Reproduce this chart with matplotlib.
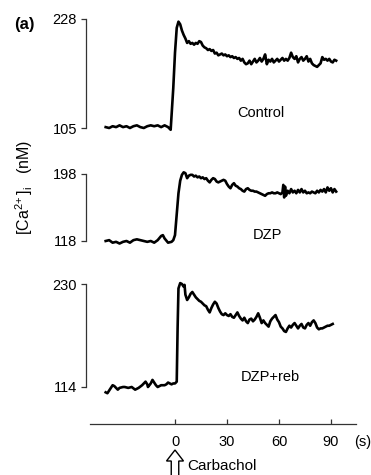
import matplotlib
matplotlib.use("Agg")
import matplotlib.pyplot as plt
from matplotlib.patches import FancyArrow

plt.rcParams['font.family'] = ['Liberation Sans', 'DejaVu Sans']
plt.rcParams['mathtext.fontset'] = 'custom'
plt.rcParams['mathtext.rm'] = 'Liberation Sans'
plt.rcParams['mathtext.it'] = 'Liberation Sans'

# ---------------- data ----------------
control_t = [-40,-38,-36,-34,-32,-30,-28,-26,-24,-22,-20,-18,-16,-14,-12,-10,-8,-6,-4,-3,
             -2.5,-1,0,1,2,3,4,5,6,7,8,9,10,11,12,13,14,15,16,17,18,19,20,21,22,23,24,25,26,27,28,29,30,
             31,32,33,34,35,36,37,38,39,40,41,42,43,44,45,46,47,48,49,50,51,52,53,54,55,56,57,58,59,60,
             61,62,63,64,65,66,67,68,69,70,71,72,73,74,75,76,77,78,79,80,81,82,83,84,85,86,87,88,89,90,91,92,93]
control_v = [106,105,107,106,108,106,107,105,107,108,106,105,107,108,107,108,106,108,106,104,
             103,150,190,218,225,222,215,210,206,201,203,200,201,199,201,200,203,202,198,196,195,193,194,192,193,189,190,187,188,189,187,188,186,
             187,185,186,184,185,183,184,181,183,179,177,178,181,177,180,183,179,181,184,180,183,188,177,182,180,183,179,181,183,180,
             182,184,181,183,181,184,190,185,183,186,179,183,185,181,183,186,180,183,178,176,175,174,176,178,185,182,183,181,183,180,179,182,181]

dzp_t = [-40,-38,-36,-34,-32,-30,-28,-26,-24,-22,-20,-18,-16,-14,-12,-10,-8,-7,-6,-4,-2,-1,
         0,1,2,3,4,5,6,7,8,9,10,11,12,13,14,15,16,17,18,19,20,21,22,23,24,25,26,27,28,29,30,
         31,32,33,34,35,36,37,38,39,40,41,42,43,44,45,46,47,48,49,50,51,52,53,54,55,56,57,58,59,60,
         61,62,62.5,63,63.5,64,65,66,67,68,69,70,71,72,73,74,75,76,77,78,79,80,81,82,83,84,85,86,87,88,89,90,91,92,93]
dzp_v = [118,119,116,117,115,117,118,116,119,120,119,118,117,118,116,119,124,125,121,116,117,119,
         125,150,175,190,197,200,199,193,196,197,197,195,196,194,195,193,194,192,193,190,188,191,193,192,189,188,189,190,191,190,186,
         183,181,185,187,184,183,181,180,178,177,180,181,179,178,178,177,177,176,175,174,173,172,174,175,175,176,175,175,176,175,
         174,176,185,170,183,172,178,175,180,176,178,175,179,176,180,176,178,175,176,175,177,176,175,178,176,179,177,180,176,182,178,181,176,180,177]

reb_t = [-40,-39,-38,-36,-35,-34,-33,-32,-30,-29,-27,-25,-23,-21,-19,-17,-16,-15.6,-14,-13,-12,-11,-10,-9,-8,-6,-5,-4,-3,-2,-1,
         0,1,1.5,2,3,4,5,5.5,6,7,8,9,10,11,12,13,14,15,16,17,18,19,20,21,22,23,24,25,26,27,28,29,30,
         31,32,33,34,35,36,37,38,39,40,41,42,43,44,45,46,47,48,49,50,51,52,53,54,55,56,57,58,59,60,
         61,62,63,64,65,66,67,68,69,70,71,72,73,74,75,76,77,78,79,80,81,82,83,84,85,86,87,88,89,90,91]
reb_v = [108,107,110,116,115,113,111,113,114,114,113,114,111,113,116,120,117,114,118,122,119,116,114,115,116,116,117,119,118,117,118,
         118,120,180,225,231,230,227,229,218,212,215,219,221,218,215,213,211,210,208,206,205,201,198,203,207,210,208,203,199,196,195,197,195,
         194,196,193,192,195,198,194,191,189,192,188,186,190,191,188,190,193,197,192,186,189,186,184,182,188,191,193,195,190,187,
         182,180,177,176,180,183,181,184,186,183,180,183,185,181,180,184,186,183,187,189,186,181,179,180,180,181,182,183,183,184,185]

panel_ticks = [(105, 228), (118, 198), (114, 230)]
panel_labels = ["Control", "DZP", "DZP+reb"]
x_ticks = [0, 30, 60, 90]

# ---------------- layout ----------------
W, H = 371, 475
fig = plt.figure(figsize=(W/100, H/100), dpi=100)

def px(x, y):
    return x / W, 1 - y / H

xl = ((86 - 175) / 1.733, (356 - 175) / 1.733)
spine_col = '#333333'
FS = 10.5

panel_px = [(19, 128), (174, 241), (284, 387)]
series = [(control_t, control_v), (dzp_t, dzp_v), (reb_t, reb_v)]
label_pos = [(261, 113), (267, 235), (270, 377)]

for (ytop, ybot), (t, v), (lo, hi), lab, (lx, ly) in zip(panel_px, series, panel_ticks, panel_labels, label_pos):
    ax = fig.add_axes([86 / W, (H - ybot) / H, (356 - 86) / W, (ybot - ytop) / H])
    ax.plot(t, v, color='black', lw=1.9, clip_on=False, solid_joinstyle='round')
    ax.set_xlim(*xl)
    ax.set_ylim(lo, hi)
    ax.set_yticks([lo, hi])
    ax.set_yticklabels([str(lo), str(hi)])
    for s in ['top', 'right', 'bottom']:
        ax.spines[s].set_visible(False)
    ax.spines['left'].set_color(spine_col)
    ax.spines['left'].set_linewidth(0.9)
    ax.set_xticks([])
    ax.tick_params(axis='y', direction='out', length=3.5, width=0.9, color=spine_col,
                   labelsize=FS, pad=3)
    ax.patch.set_alpha(0)
    fig.text(*px(lx, ly), lab, fontsize=FS, ha='center', va='center')

# x axis
axx = fig.add_axes([86 / W, (H - 424) / H, (356 - 86) / W, 0.01])
axx.set_xlim(*xl)
axx.set_ylim(0, 1)
for s in ['top', 'right', 'left']:
    axx.spines[s].set_visible(False)
axx.spines['bottom'].set_color(spine_col)
axx.spines['bottom'].set_linewidth(0.9)
axx.spines['bottom'].set_bounds((90 - 175) / 1.733, xl[1])
axx.set_yticks([])
axx.set_xticks(x_ticks)
axx.set_xticklabels([str(x) for x in x_ticks])
axx.tick_params(axis='x', direction='in', length=3.5, width=0.9, color=spine_col,
                labelsize=FS, pad=8)
axx.patch.set_alpha(0)

fig.text(*px(363, 442), "(s)", fontsize=FS, ha='center', va='center')

# y label
fig.text(*px(24, 187), r"[Ca$^{\mathregular{2\!+}}$]$_{\mathregular{i}}$   (nM)", fontsize=11.5,
         rotation=90, ha='center', va='center')

# (a)
fig.text(*px(14, 25), "(a)", fontsize=12, fontweight='bold', ha='left', va='center')

# Carbachol arrow
ax0 = fig.add_axes([0, 0, 1, 1])
ax0.set_xlim(0, W)
ax0.set_ylim(H, 0)
ax0.axis('off')
arrow = FancyArrow(175, 476, 0, -26, width=7.5, head_width=17, head_length=11,
                   length_includes_head=True, facecolor='white', edgecolor='black', lw=1.0,
                   clip_on=False)
ax0.add_patch(arrow)
ax0.text(187, 466, "Carbachol", fontsize=11, ha='left', va='center')

fig.savefig("out.png", dpi=100)
